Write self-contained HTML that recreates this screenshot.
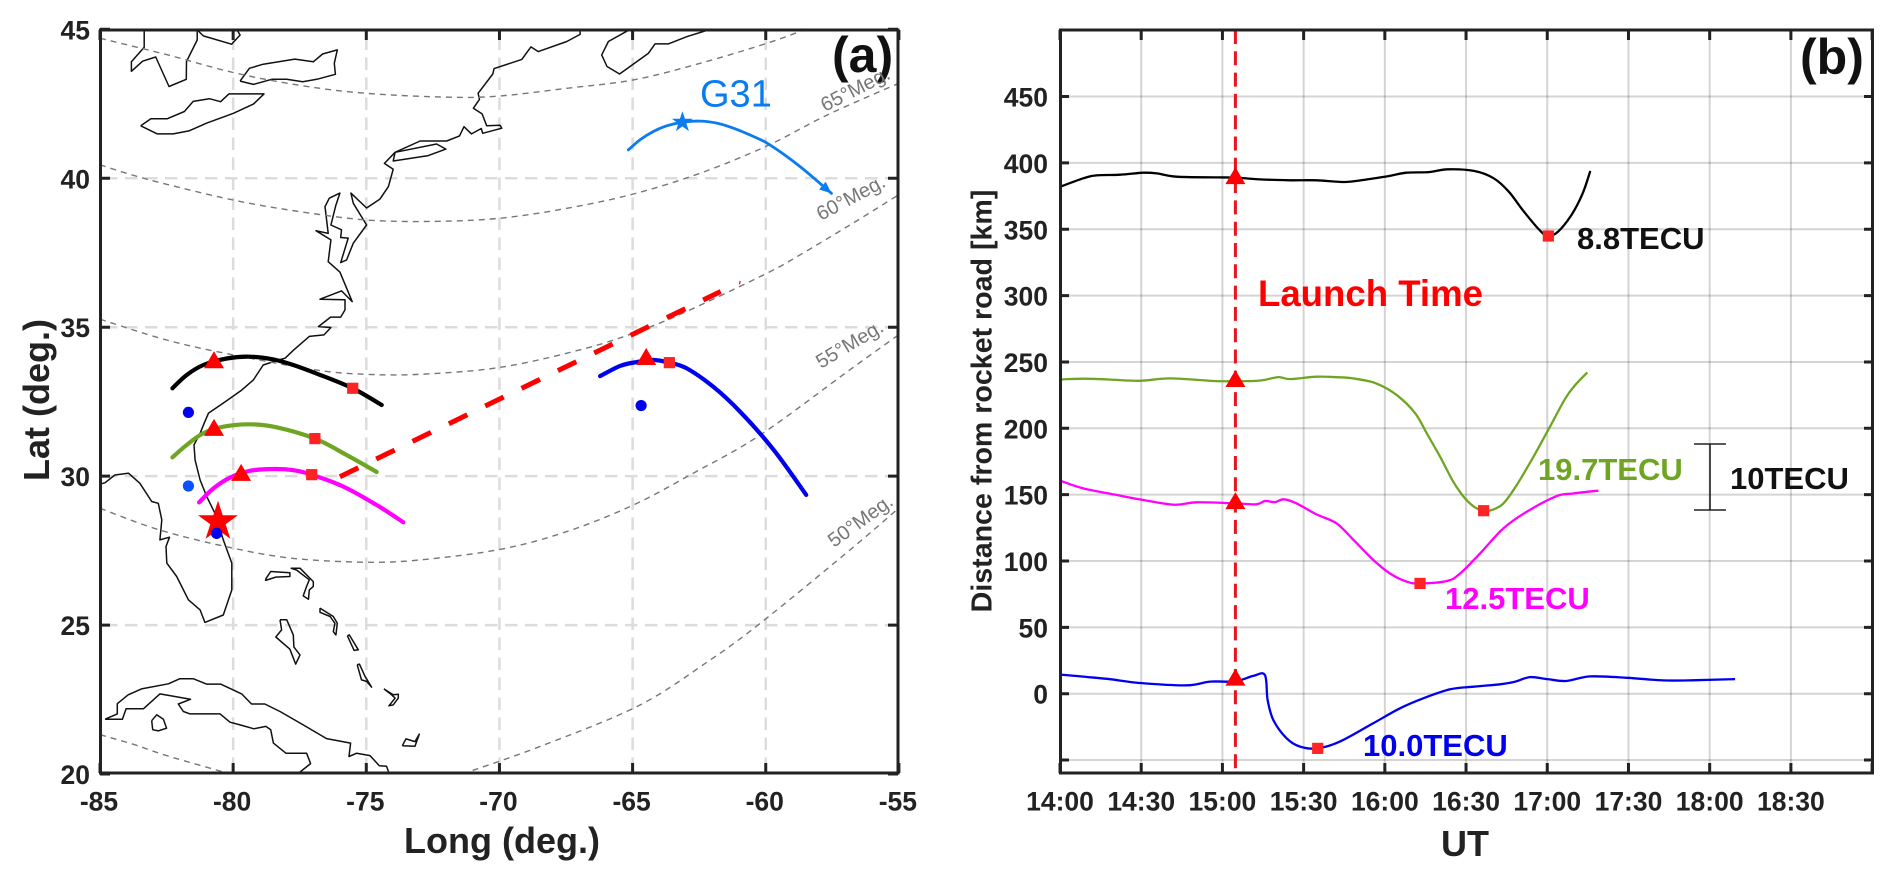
<!DOCTYPE html>
<html lang="en">
<head>
<meta charset="utf-8">
<title>Rocket road map and TEC distance-time chart</title>
<style>
html,body{margin:0;padding:0;background:#fff;}
svg{display:block;font-family:"Liberation Sans",sans-serif;}
.tk{font-weight:bold;font-size:26.5px;fill:#222;}
.ttl{font-weight:bold;fill:#222;}
.tec{font-weight:bold;font-size:31px;}
.meg{font-size:20px;fill:#777;}
</style>
</head>
<body>
<svg id="fig" xmlns="http://www.w3.org/2000/svg" width="1892" height="883" viewBox="0 0 1892 883">
  <defs>
    <clipPath id="clipA"><rect x="100" y="29" width="798.5" height="744.5"/></clipPath>
    <clipPath id="clipB"><rect x="1060" y="30" width="812.5" height="743"/></clipPath>
  </defs>
  <g id="gridA"></g>
  <g id="coast" clip-path="url(#clipA)"></g>
  <g id="meg" clip-path="url(#clipA)"></g>
  <g id="tracks" clip-path="url(#clipA)"></g>
  <g id="axesA"></g>
  <g id="gridB"></g>
  <g id="series" clip-path="url(#clipB)"></g>
  <g id="axesB"></g>

  <text x="832" y="72" font-size="50" font-weight="bold" fill="#111">(a)</text>
  <text x="1800" y="74" font-size="50" font-weight="bold" fill="#111">(b)</text>
  <text class="ttl" font-size="36" text-anchor="middle" transform="translate(49 400) rotate(-90)">Lat (deg.)</text>
  <text class="ttl" font-size="36" text-anchor="middle" x="502" y="853">Long (deg.)</text>
  <text class="ttl" font-size="28.6" text-anchor="middle" transform="translate(991.7 401) rotate(-90)">Distance from rocket road [km]</text>
  <text class="ttl" font-size="36" text-anchor="middle" x="1465" y="856">UT</text>
  <text x="700" y="106.5" font-size="38" fill="#0a7cf0">G31</text>

  <text class="meg" transform="translate(825 112) rotate(-27)">65°Meg.</text>
  <text class="meg" transform="translate(821 221) rotate(-28)">60°Meg.</text>
  <text class="meg" transform="translate(821 369) rotate(-31)">55°Meg.</text>
  <text class="meg" transform="translate(834 548) rotate(-36)">50°Meg.</text>

  <text x="1258" y="306" font-size="36.6" font-weight="bold" fill="#ff0000">Launch Time</text>
  <text class="tec" x="1577" y="249" fill="#111">8.8TECU</text>
  <text class="tec" x="1538" y="480" fill="#6fa523">19.7TECU</text>
  <text class="tec" x="1445" y="609" fill="#ff00ff">12.5TECU</text>
  <text class="tec" x="1363" y="756" fill="#0000ee">10.0TECU</text>
  <text class="tec" x="1730" y="489" fill="#111">10TECU</text>
  <g stroke="#222" stroke-width="1.6" fill="none">
    <path d="M1694 444H1726M1710 444V510M1694 510H1726"/>
  </g>
</svg>

<script>
/* ---------- panel (a) tick data ---------- */
const lonTicks = [-85, -80, -75, -70, -65, -60, -55];
const latTicks = [20, 25, 30, 35, 40, 45];

/* ---------- panel (a) coastlines, [lon, lat] ---------- */
const coastHuron = [[-83.34,44.98],[-83.34,44.40],[-83.82,43.91],[-83.82,43.59],[-83.40,43.93],[-82.91,44.07],[-82.41,43.08],[-81.76,43.32],[-81.75,43.92],[-81.35,44.64],[-81.35,45.1]];
const coastBay = [[-81.35,44.98],[-81.12,44.78],[-80.06,44.50],[-79.74,44.81],[-79.84,44.96],[-79.95,45.1]];
const coastOntario = [[-79.74,43.26],[-79.39,43.69],[-78.87,43.83],[-77.68,44.00],[-76.99,43.91],[-76.64,44.17],[-76.09,44.31],[-76.20,43.86],[-76.16,43.49],[-76.86,43.32],[-77.39,43.24],[-77.99,43.32],[-78.55,43.32],[-79.24,43.15],[-79.74,43.26]];
const coastErie = [[-83.47,41.76],[-83.09,42.00],[-82.47,42.00],[-81.83,42.24],[-81.50,42.58],[-80.89,42.67],[-80.47,42.57],[-80.16,42.83],[-78.84,42.83],[-79.24,42.49],[-79.99,42.18],[-80.99,41.85],[-81.66,41.59],[-82.25,41.49],[-82.85,41.49],[-83.47,41.76]];
const coastLongIsland = [[-73.92,40.87],[-72.36,41.15],[-72.01,40.98],[-72.67,40.76],[-73.99,40.58],[-73.92,40.87]];
const coastNovaScotia = [[-65.09,45.0],[-65.91,44.59],[-66.16,44.14],[-65.96,43.75],[-65.49,43.50],[-64.41,44.19],[-64.16,44.51],[-63.66,44.51],[-62.97,44.75],[-62.15,44.98]];
const coastAtlantic = [[-66.97,45.1],[-66.97,44.83],[-67.47,44.59],[-68.54,44.25],[-68.82,44.41],[-69.16,43.99],[-70.20,43.68],[-70.25,43.50],[-70.80,42.85],[-70.75,42.65],[-70.98,42.35],[-70.65,42.16],[-70.48,41.76],[-69.98,41.78],[-69.91,41.68],[-70.63,41.51],[-70.68,41.67],[-71.05,41.49],[-71.33,41.73],[-71.50,41.42],[-71.98,41.25],[-72.98,41.25],[-73.92,40.87],[-74.32,40.50],[-73.99,40.30],[-74.17,39.72],[-74.49,39.30],[-74.99,39.00],[-75.58,39.50],[-75.49,39.16],[-74.99,38.43],[-75.49,37.82],[-75.74,37.26],[-75.96,37.17],[-75.68,37.99],[-75.96,38.01],[-75.93,38.27],[-76.33,38.43],[-76.14,39.10],[-75.99,39.50],[-76.39,39.33],[-76.55,39.05],[-76.43,38.15],[-76.89,38.24],[-76.33,37.93],[-76.43,37.20],[-75.99,36.85],[-75.53,35.86],[-75.93,36.22],[-76.74,35.94],[-75.80,35.92],[-75.80,35.58],[-75.96,35.34],[-76.34,35.34],[-76.80,35.02],[-76.33,34.99],[-76.59,34.74],[-77.14,34.69],[-77.72,34.24],[-78.05,33.96],[-78.30,33.90],[-78.87,33.73],[-79.24,33.23],[-79.68,32.89],[-80.30,32.50],[-80.93,32.11],[-81.09,31.77],[-81.24,31.44],[-81.47,31.05],[-81.43,30.54],[-81.24,29.87],[-80.99,29.31],[-80.68,28.75],[-80.37,27.86],[-80.05,27.08],[-80.05,26.18],[-80.37,25.34],[-81.06,25.09],[-81.24,25.51],[-81.68,25.85],[-82.12,26.63],[-82.49,27.08],[-82.52,27.64],[-82.39,27.95],[-82.75,27.86],[-82.68,28.53],[-82.81,29.09],[-83.06,29.15],[-83.50,29.76],[-83.93,30.10],[-84.44,30.04],[-84.81,29.78],[-85.1,29.70]];
const coastGrandBahama = [[-78.78,26.54],[-78.59,26.80],[-77.87,26.76],[-77.87,26.63],[-78.40,26.61],[-78.78,26.50],[-78.78,26.54]];
const coastAbaco = [[-77.84,26.91],[-77.49,26.91],[-76.99,26.46],[-76.99,26.30],[-77.14,26.18],[-77.17,25.87],[-77.37,25.98],[-77.24,26.30],[-77.14,26.52],[-77.62,26.85],[-77.84,26.91]];
const coastEleuthera = [[-76.74,25.57],[-76.24,25.29],[-76.09,25.06],[-76.14,24.67],[-76.24,24.78],[-76.18,25.06],[-76.36,25.29],[-76.74,25.43],[-76.74,25.57]];
const coastCat = [[-75.71,24.64],[-75.64,24.67],[-75.30,24.17],[-75.46,24.15],[-75.71,24.64]];
const coastLong = [[-75.34,23.67],[-75.26,23.69],[-75.05,23.28],[-74.80,22.92],[-74.99,23.11],[-75.18,23.16],[-75.34,23.67]];
const coastCrooked = [[-74.34,22.86],[-73.99,22.66],[-73.80,22.68],[-73.80,22.55],[-73.99,22.32],[-74.15,22.29],[-73.92,22.55],[-74.05,22.66],[-74.34,22.86]];
const coastInagua = [[-73.65,20.95],[-73.51,21.18],[-73.17,21.09],[-73.01,21.34],[-73.17,20.93],[-73.65,20.95]];
const coastAndros = [[-78.24,25.18],[-77.99,25.18],[-77.74,24.67],[-77.72,24.26],[-77.49,24.0],[-77.65,23.69],[-77.87,24.19],[-78.40,24.6],[-78.18,24.84],[-78.24,25.18]];
const coastCuba = [[-84.81,21.84],[-84.35,22.02],[-84.35,22.36],[-83.94,22.66],[-83.44,22.86],[-82.43,23.03],[-82.0,23.2],[-81.5,23.2],[-81.0,23.02],[-80.47,23.02],[-79.68,22.69],[-79.31,22.35],[-78.81,22.35],[-78.24,22.1],[-77.37,21.65],[-76.49,21.19],[-75.59,21.04],[-75.65,20.59],[-75.36,20.70],[-74.86,20.62],[-74.51,20.28],[-74.24,20.26],[-74.17,20.09],[-74.17,19.9]];
const coastCubaSouth = [[-77.49,19.95],[-77.49,20.07],[-77.09,20.35],[-77.24,20.70],[-78.02,20.70],[-78.49,21.04],[-78.59,21.49],[-78.77,21.6],[-79.22,21.52],[-79.74,21.65],[-80.12,21.74],[-80.49,22.02],[-81.62,22.02],[-81.87,22.1],[-82.06,22.35],[-81.6,22.51],[-82.75,22.69],[-83.37,22.19],[-84.02,22.19],[-84.16,21.84],[-84.81,21.84]];
const coastYouth = [[-83.06,21.79],[-82.87,21.99],[-82.62,21.84],[-82.5,21.54],[-82.81,21.45],[-83.02,21.49],[-83.06,21.79]];
const coastShapes = [coastHuron, coastBay, coastOntario, coastErie, coastLongIsland, coastNovaScotia, coastAtlantic, coastGrandBahama, coastAbaco, coastEleuthera, coastCat, coastLong, coastCrooked, coastInagua, coastAndros, coastCuba, coastCubaSouth, coastYouth];

/* ---------- panel (a) magnetic latitude contours, [lon, lat] ---------- */
const megTop = [[-85,44.70],[-82.5,44.15],[-80,43.55],[-77.5,43.12],[-75,42.85],[-71.86,42.72],[-70,42.76],[-67.47,43.02],[-64.97,43.30],[-62.46,43.86],[-59.96,44.53],[-58.5,45]];
const meg65 = [[-85,40.45],[-83.12,39.94],[-80,39.27],[-77.5,38.88],[-75,38.6],[-72.48,38.55],[-69.97,38.66],[-67.47,38.99],[-64.97,39.47],[-62.46,40.17],[-59.92,41.1],[-57.7,42.12],[-55,43.19]];
const meg60 = [[-85,35.27],[-82.5,34.57],[-80,34.07],[-76.86,33.56],[-75,33.42],[-72.98,33.42],[-69.98,33.65],[-66.97,34.24],[-64.97,34.8],[-62.97,35.53],[-59.96,36.81],[-58.71,37.43],[-56.84,38.43],[-55,39.45]];
const meg55 = [[-85,28.92],[-82.75,28.19],[-80,27.58],[-77.74,27.24],[-75,27.11],[-72.98,27.19],[-69.98,27.54],[-67.47,28.14],[-64.97,29.03],[-62.72,30.1],[-60.21,31.38],[-56.84,33.57],[-55,34.75]];
const meg50West = [[-85,21.32],[-83.75,21.0],[-82.5,20.62],[-80.1,20.0]];
const meg50East = [[-71.4,20],[-68.4,20.95],[-64.76,22.3],[-62.09,23.83],[-60.21,25.06],[-56.84,27.52],[-55,28.93]];
const megLines = [megTop, meg65, meg60, meg55, meg50West, meg50East];

/* ---------- panel (a) ionospheric tracks, [lon, lat] ---------- */
const trackBlack = [[-82.28,32.95],[-81.74,33.40],[-81.12,33.73],[-80.24,33.95],[-79.37,34.01],[-78.49,33.92],[-77.74,33.73],[-76.74,33.40],[-75.51,32.95],[-74.42,32.39]];
const trackGreen = [[-82.28,30.63],[-81.74,31.05],[-81.12,31.44],[-80.37,31.66],[-79.37,31.74],[-78.37,31.64],[-76.93,31.26],[-75.74,30.71],[-74.61,30.14]];
const trackMagenta = [[-81.28,29.12],[-80.74,29.59],[-80.12,29.95],[-79.37,30.18],[-78.49,30.24],[-77.74,30.2],[-77.05,30.05],[-75.86,29.65],[-74.61,29.03],[-73.61,28.45]];
const trackBlue = [[-66.22,33.36],[-65.47,33.70],[-64.85,33.83],[-64.2,33.9],[-63.62,33.81],[-62.97,33.62],[-61.97,33.0],[-60.97,32.17],[-59.7,30.88],[-58.48,29.37]];
const trackG31 = [[-65.16,40.95],[-64.72,41.29],[-64.22,41.57],[-63.72,41.76],[-63.13,41.88],[-62.47,41.92],[-61.84,41.85],[-61.21,41.68],[-60.46,41.40],[-59.84,41.12],[-58.71,40.39],[-57.53,39.49]];
const rocketPath = [[-75.99,29.98],[-61.69,36.2]];
const rocketTip = [[-60.99,36.44],[-60.96,36.55]];
const launchTriangles = [[-80.72,33.84],[-80.72,31.57],[-79.70,30.06],[-64.49,33.95]];
const minimumSquares = [[-75.51,32.95],[-76.93,31.26],[-77.05,30.05],[-63.62,33.81]];
const stationDots = [[-81.68,32.14],[-81.68,29.67],[-80.62,28.08],[-64.68,32.37]];
const launchSite = [-80.57,28.47];
const g31Star = [-63.13,41.88];

/* ---------- panel (b) tick data ---------- */
const timeTicks = [840,870,900,930,960,990,1020,1050,1080,1110,1140];
const timeTickLabels = ['14:00','14:30','15:00','15:30','16:00','16:30','17:00','17:30','18:00','18:30',''];
const distTicks = [-50,0,50,100,150,200,250,300,350,400,450];
const distTickLabels = ['','0','50','100','150','200','250','300','350','400','450'];
const launchMinute = 904.8;

/* ---------- panel (b) series: minutes of UT day and distance in km ---------- */
const blackTime = [840.1,848.6,853.5,862.2,870.8,875.7,883.1,897.9,904.8,913.9,925,934.8,945.5,954.5,962.3,967.9,976.3,983.3,993.1,1000.2,1005.8,1011.4,1017.7,1020.4,1024,1028.9,1033.1,1035.9];
const blackDist = [382.1,388.4,390.6,391.1,392.6,392.1,389.6,389.1,388.9,387.6,386.9,386.9,385.6,387.9,390.4,392.6,393.1,395.2,393.9,388.4,378.3,363.2,348.2,344.9,348.2,360.7,377.1,393.9];
const greenTime = [840.1,848.6,858,869.5,880.6,897.9,910.2,915.1,920.7,925,934.8,943.4,948.3,956.7,964.4,971.2,975.5,980.4,985.3,989.6,993.3,996.5,999.5,1003.8,1008.7,1014.9,1021,1026.8,1030.5,1034.8];
const greenDist = [236.8,237.4,236.8,235.8,237.6,235.6,235.6,236.3,238.6,237.1,238.9,238.4,237.6,233.9,225,211.3,196.2,178.6,159.7,147.2,140.4,137.9,138.4,143.4,157.2,178.6,201.2,223,233,242.1];
const magentaTime = [840.1,848.6,861,869.5,881.9,890.5,904.8,912.6,915.7,919.4,922.7,927.4,934.8,942.2,948.4,955.8,961.9,968.1,973,982.9,987.8,995.2,1003.8,1012.4,1023.5,1029.6,1038.9];
const magentaDist = [160.5,154.7,149.7,146.4,142.4,144.2,143.4,142.7,145.2,144.4,146.5,143.4,135.1,128.3,116,100.7,90.6,84.4,83.1,84.9,90.6,105.7,124.6,137.1,148.9,150.9,153];
const blueTime = [840.2,848.6,858.5,869.5,886.8,895.4,904.6,911.4,915.7,916.7,918.8,923.7,928.7,935.2,943.4,955.7,965.6,974.2,984.1,992.7,1002.5,1008,1013.6,1020,1027,1035.8,1049.5,1062.8,1075,1089.4];
const blueDist = [14.4,12.9,10.9,8.1,6.3,9.1,9.3,13.4,14.1,-4.7,-19.8,-33.6,-39.9,-41.2,-36.1,-22.3,-11,-3.5,3.3,5.3,7.1,9,12.5,11,9.6,13,12,10,10.2,11];
const launchDist = [388.9,236,144,11];
const minimumTime = [1020.4,996.5,973,935.2];
const minimumDist = [344.9,137.9,83.1,-41.2];

/* ---------- axis functions ---------- */
const xA = lon => 100 + (lon + 85) * 26.63;
const yA = lat => 29.3 + (45 - lat) * 29.79;
const xB = min => 1060 + (min - 840) * 2.707;
const yB = km => 693.7 - km * 1.327;

const NS = 'http://www.w3.org/2000/svg';
function make(tag, attrs, parent, text) {
  const el = document.createElementNS(NS, tag);
  for (const k in attrs) el.setAttribute(k, attrs[k]);
  if (text !== undefined) el.textContent = text;
  parent.appendChild(el);
  return el;
}
function polyPath(pts) {
  return 'M' + pts.map(p => p[0].toFixed(1) + ' ' + p[1].toFixed(1)).join('L');
}
function smoothPath(pts) {
  let d = 'M' + pts[0][0].toFixed(1) + ' ' + pts[0][1].toFixed(1);
  for (let i = 0; i < pts.length - 1; i++) {
    const p0 = pts[Math.max(i - 1, 0)], p1 = pts[i], p2 = pts[i + 1], p3 = pts[Math.min(i + 2, pts.length - 1)];
    const c1x = p1[0] + (p2[0] - p0[0]) / 6, c1y = p1[1] + (p2[1] - p0[1]) / 6;
    const c2x = p2[0] - (p3[0] - p1[0]) / 6, c2y = p2[1] - (p3[1] - p1[1]) / 6;
    d += 'C' + [c1x, c1y, c2x, c2y, p2[0], p2[1]].map(v => v.toFixed(1)).join(' ');
  }
  return d;
}
function starPoints(cx, cy, R) {
  const out = [];
  for (let i = 0; i < 10; i++) {
    const r = i % 2 ? R * 0.382 : R;
    const a = -Math.PI / 2 + i * Math.PI / 5;
    out.push((cx + r * Math.cos(a)).toFixed(1) + ',' + (cy + r * Math.sin(a)).toFixed(1));
  }
  return out.join(' ');
}
function triPoints(cx, cy) {
  return [[cx, cy - 10.5], [cx + 10, cy + 6.5], [cx - 10, cy + 6.5]].map(p => p[0].toFixed(1) + ',' + p[1].toFixed(1)).join(' ');
}
const mapPts = arr => arr.map(p => [xA(p[0]), yA(p[1])]);
const seriesPts = (ts, vs) => ts.map((t, i) => [xB(t), yB(vs[i])]);

/* ---------- panel (a) ---------- */
const gridA = document.getElementById('gridA');
lonTicks.slice(1, -1).forEach(lon => {
  const l = make('line', {x1: xA(lon), x2: xA(lon), y1: 773, y2: 30, stroke: '#dcdcdc', 'stroke-width': 2.5, 'stroke-dasharray': '12.5 7.5', 'stroke-dashoffset': -3}, gridA);
  
  
});
latTicks.slice(1, -1).forEach(lat => {
  const l = make('line', {x1: 100, x2: 898, y1: yA(lat), y2: yA(lat), stroke: '#dcdcdc', 'stroke-width': 2.5, 'stroke-dasharray': '12.5 7.5', 'stroke-dashoffset': -5}, gridA);
  
  
});

const coastG = document.getElementById('coast');
coastShapes.forEach(shape => {
  const c = make('path', {d: polyPath(mapPts(shape)), fill: 'none', stroke: '#111', 'stroke-width': 1.5, 'stroke-linejoin': 'round'}, coastG);
  
  
});

const megG = document.getElementById('meg');
megLines.forEach(line => {
  const m = make('path', {d: smoothPath(mapPts(line)), fill: 'none', stroke: '#777', 'stroke-width': 1.4, 'stroke-dasharray': '6 5'}, megG);
  
  
});

const tracksG = document.getElementById('tracks');
[[trackBlack, '#000000', 'track-black'], [trackGreen, '#6fa523', 'track-green'], [trackMagenta, '#ff00ff', 'track-magenta'], [trackBlue, '#0000ee', 'track-blue']].forEach(s => {
  const t = make('path', {d: smoothPath(mapPts(s[0])), fill: 'none', stroke: s[1], 'stroke-width': 4.2, 'stroke-linecap': 'round'}, tracksG);
  
  
});

const g31Path = make('path', {d: smoothPath(mapPts(trackG31)), fill: 'none', stroke: '#0a7cf0', 'stroke-width': 2.8, 'stroke-linecap': 'round'}, tracksG);



const g31End = mapPts(trackG31.slice(-2));
const arrowAngle = Math.atan2(g31End[1][1] - g31End[0][1], g31End[1][0] - g31End[0][0]);
const tip = g31End[1];
const arrowPts = [tip,
  [tip[0] - 13 * Math.cos(arrowAngle - 0.4), tip[1] - 13 * Math.sin(arrowAngle - 0.4)],
  [tip[0] - 13 * Math.cos(arrowAngle + 0.4), tip[1] - 13 * Math.sin(arrowAngle + 0.4)]];
const g31Arrow = make('polygon', {points: arrowPts.map(p => p[0].toFixed(1) + ',' + p[1].toFixed(1)).join(' '), fill: '#0a7cf0'}, tracksG);



const g31Mark = make('polygon', {points: starPoints(xA(g31Star[0]), yA(g31Star[1]), 11), fill: '#0a7cf0'}, tracksG);



const rocket = make('path', {d: polyPath(mapPts(rocketPath)), fill: 'none', stroke: '#ff0000', 'stroke-width': 5, 'stroke-dasharray': '20.5 19.9'}, tracksG);



const rocketEnd = make('path', {d: polyPath(mapPts(rocketTip)), fill: 'none', stroke: '#ff0000', 'stroke-width': 1.2}, tracksG);



stationDots.forEach((p, i) => {
  const d = make('circle', {cx: xA(p[0]), cy: yA(p[1]), r: 5.6, fill: i === 1 ? '#0a50ff' : '#0000f0'}, tracksG);
  
  
});
launchTriangles.forEach(p => {
  const t = make('polygon', {points: triPoints(xA(p[0]), yA(p[1])), fill: '#ff0000'}, tracksG);
  
  
});
minimumSquares.forEach(p => {
  const q = make('rect', {x: xA(p[0]) - 5.6, y: yA(p[1]) - 5.6, width: 11.2, height: 11.2, fill: '#ff2424'}, tracksG);
  
  
});
const siteStar = make('polygon', {points: starPoints(xA(launchSite[0]), yA(launchSite[1]), 21), fill: '#ff0000'}, tracksG);


const siteDot = make('circle', {cx: xA(stationDots[2][0]), cy: yA(stationDots[2][1]), r: 5.6, fill: '#0000f0'}, tracksG);



const axesA = document.getElementById('axesA');
const frameA = make('rect', {x: 100.5, y: 30, width: 797.5, height: 743, fill: 'none', stroke: '#222', 'stroke-width': 3}, axesA);


lonTicks.forEach(lon => {
  const x = xA(lon);
  const tk = make('path', {d: `M${x} 773V763M${x} 30V40`, stroke: '#222', 'stroke-width': 3}, axesA);
  
  
  const lb = make('text', {x: x - 1, y: 810.5, 'text-anchor': 'middle', class: 'tk'}, axesA, String(lon));
  
  
});
latTicks.forEach(lat => {
  const y = yA(lat);
  const tk = make('path', {d: `M100 ${y}H110M898 ${y}H888`, stroke: '#222', 'stroke-width': 3}, axesA);
  
  
  const lb = make('text', {x: 90, y: y + 10, 'text-anchor': 'end', class: 'tk'}, axesA, String(lat));
  
  
});

/* ---------- panel (b) ---------- */
const gridB = document.getElementById('gridB');
timeTicks.slice(1, -1).forEach(t => {
  const l = make('line', {x1: xB(t), x2: xB(t), y1: 30, y2: 773, stroke: '#000', 'stroke-opacity': 0.17, 'stroke-width': 2}, gridB);
  
  
});
distTicks.forEach(v => {
  const l = make('line', {x1: 1060, x2: 1873, y1: yB(v), y2: yB(v), stroke: '#000', 'stroke-opacity': 0.17, 'stroke-width': 2}, gridB);
  
  
});

const seriesG = document.getElementById('series');
const launchLine = make('line', {x1: xB(launchMinute), x2: xB(launchMinute), y1: 30, y2: 773, stroke: '#e8141e', 'stroke-width': 3, 'stroke-dasharray': '14 7.3'}, seriesG);



[[blackTime, blackDist, '#000000', 'series-black'], [greenTime, greenDist, '#6fa523', 'series-green'], [magentaTime, magentaDist, '#ff00ff', 'series-magenta'], [blueTime, blueDist, '#0000ee', 'series-blue']].forEach(s => {
  const p = make('path', {d: smoothPath(seriesPts(s[0], s[1])), fill: 'none', stroke: s[2], 'stroke-width': 2.3, 'stroke-linejoin': 'round'}, seriesG);
  
  
});
launchDist.forEach(v => {
  const t = make('polygon', {points: triPoints(xB(launchMinute), yB(v)), fill: '#ff0000'}, seriesG);
  
  
});
minimumTime.forEach((t, i) => {
  const q = make('rect', {x: xB(t) - 5.6, y: yB(minimumDist[i]) - 5.6, width: 11.2, height: 11.2, fill: '#ff2424'}, seriesG);
  
  
});

const axesB = document.getElementById('axesB');
const frameB = make('rect', {x: 1060.5, y: 30, width: 812, height: 743, fill: 'none', stroke: '#222', 'stroke-width': 3}, axesB);


timeTicks.forEach((t, i) => {
  const x = xB(t);
  const tk = make('path', {d: `M${x} 773V763M${x} 30V40`, stroke: '#222', 'stroke-width': 3}, axesB);
  
  
  if (timeTickLabels[i]) {
    const lb = make('text', {x: x, y: 810.5, 'text-anchor': 'middle', class: 'tk'}, axesB, timeTickLabels[i]);
    
    
  }
});
distTicks.forEach((v, i) => {
  const y = yB(v);
  const tk = make('path', {d: `M1060 ${y}H1069M1873 ${y}H1864`, stroke: '#222', 'stroke-width': 3}, axesB);
  
  
  if (distTickLabels[i]) {
    const lb = make('text', {x: 1048, y: y + 10, 'text-anchor': 'end', class: 'tk'}, axesB, distTickLabels[i]);
    
    
  }
});
</script>
</body>
</html>
